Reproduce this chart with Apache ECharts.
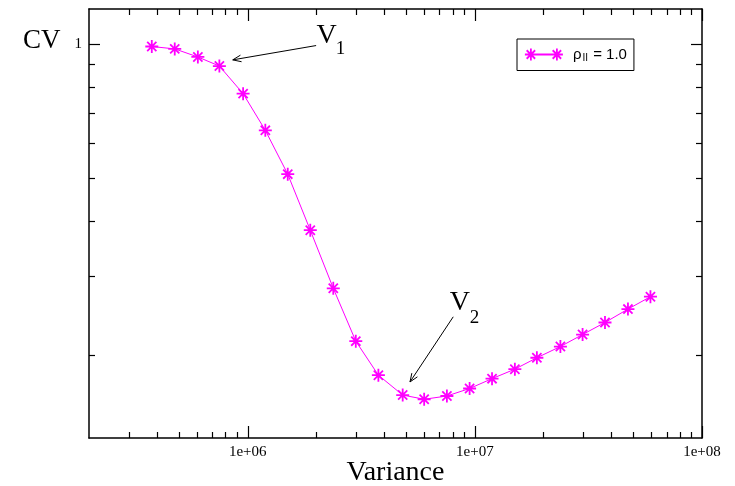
<!DOCTYPE html>
<html><head><meta charset="utf-8">
<script src="https://cdn.jsdelivr.net/npm/echarts@6/dist/echarts.min.js"></script>
<style>html,body{margin:0;padding:0;background:#fff}#c{width:735px;height:486px}</style>
</head><body><div id="c"></div>
<script>
// ---- data ----
const variance = [3.78e5, 4.77e5, 6.03e5, 7.50e5, 9.54e5, 1.195e6, 1.50e6, 1.885e6, 2.38e6, 2.99e6, 3.76e6, 4.81e6, 5.98e6, 7.53e6, 9.48e6, 1.19e7, 1.50e7, 1.875e7, 2.38e7, 2.98e7, 3.74e7, 4.72e7, 5.93e7];
const cv = [0.988, 0.976, 0.936, 0.893, 0.774, 0.640, 0.510, 0.3815, 0.2823, 0.2147, 0.180, 0.1624, 0.1589, 0.1616, 0.168, 0.1768, 0.1857, 0.197, 0.2088, 0.2222, 0.2365, 0.2535, 0.2703];
const xMajorTicks = [1e6, 1e7, 1e8];
const xTickLabels = ['1e+06', '1e+07', '1e+08'];
const xMinorTicks = [3e5, 4e5, 5e5, 6e5, 7e5, 8e5, 9e5, 2e6, 3e6, 4e6, 5e6, 6e6, 7e6, 8e6, 9e6, 2e7, 3e7, 4e7, 5e7, 6e7, 7e7, 8e7, 9e7];
const yMajorTicks = [1];
const yTickLabels = ['1'];
const yMinorTicks = [0.2, 0.3, 0.4, 0.5, 0.6, 0.7, 0.8, 0.9];
const seriesName = 'rho_par_1.0';
const xTitle = 'Variance';
const yTitle = 'CV';
// annotations (data coordinates)
const annotationMain = ['V', 'V'];
const annotationSub = ['1', '2'];
const annotationMainAt = [[2.01e6, 1.048], [7.76e6, 0.262]];
const annotationSubAt = [[2.44e6, 0.975], [9.5e6, 0.2415]];
const arrowFrom = [[2.0e6, 0.993], [8.03e6, 0.2436]];
const arrowTo = [[8.59e5, 0.922], [5.18e6, 0.1738]];

// ---- chart ----
const MAG = '#ff00ff';
const SERIF = 'Liberation Serif';
const SANS = 'Liberation Sans';
const ASTER = 'path://M6 0L6 12M0 6L12 6M1.76 1.76L10.24 10.24M1.76 10.24L10.24 1.76';
const LEG_ICON = 'path://M6 6L32 6M6 0L6 12M0 6L12 6M1.76 1.76L10.24 10.24M1.76 10.24L10.24 1.76M32 0L32 12M26 6L38 6M27.76 1.76L36.24 10.24M27.76 10.24L36.24 1.76';

const chart = echarts.init(document.getElementById('c'), null, {renderer: 'canvas'});
const axLine = {show: true, lineStyle: {color: '#000', width: 1.5}};
function xAx(pos, ticks, len, line, labels, name) {
  return {
    type: 'log', position: pos, min: 2e5, max: 1e8, logBase: 10,
    axisLine: line ? axLine : {show: false},
    axisTick: {show: true, inside: true, length: len, customValues: ticks, lineStyle: {color: '#000', width: 1.2}},
    minorTick: {show: false}, splitLine: {show: false},
    axisLabel: labels ? {show: true, customValues: xMajorTicks, margin: 7, color: '#000', fontFamily: SERIF, fontSize: 15,
      formatter: v => { const i = xMajorTicks.findIndex(t => Math.abs(t - v) / t < 1e-6); return i >= 0 ? xTickLabels[i] : ''; }} : {show: false},
    name: name || '', nameLocation: 'middle', nameGap: 21, nameMoveOverlap: false,
    nameTextStyle: {fontFamily: SERIF, fontSize: 28, color: '#000'}
  };
}
function yAx(pos, ticks, len, line, labels) {
  return {
    type: 'log', position: pos, min: 0.13, max: 1.2, logBase: 10,
    axisLine: line ? axLine : {show: false},
    axisTick: {show: true, inside: true, length: len, customValues: ticks, lineStyle: {color: '#000', width: 1.2}},
    minorTick: {show: false}, splitLine: {show: false},
    axisLabel: labels ? {show: true, customValues: yMajorTicks, margin: 7, color: '#000', fontFamily: SERIF, fontSize: 15,
      formatter: v => { const i = yMajorTicks.findIndex(t => Math.abs(t - v) / t < 1e-6); return i >= 0 ? yTickLabels[i] : ''; }} : {show: false}
  };
}

chart.setOption({
  animation: false,
  backgroundColor: '#fff',
  title: {text: yTitle, left: 18, top: 22, textStyle: {fontFamily: SERIF, fontSize: 27, fontWeight: 'normal', color: '#000'}},
  grid: {left: 89, right: 33, top: 9, bottom: 48, containLabel: false, outerBoundsMode: 'none'},
  legend: {
    left: 517, top: 39, padding: [8, 7, 7, 7], borderColor: '#000', borderWidth: 1,
    icon: LEG_ICON, itemWidth: 38, itemHeight: 12,
    itemStyle: {color: MAG, borderColor: MAG, borderWidth: 1.8},
    data: [seriesName],
    formatter: () => '{r|ρ}{s|II}{r| = 1.0}',
    textStyle: {rich: {
      r: {fontFamily: SANS, fontSize: 15, color: '#000'},
      s: {fontFamily: SANS, fontSize: 10, color: '#000', padding: [8, 1, 0, 1]}
    }, padding: [0, 0, 0, 5]}
  },
  xAxis: [
    xAx('bottom', xMajorTicks, 12, true, true, xTitle),
    xAx('bottom', xMinorTicks, 6, false, false),
    xAx('top', xMajorTicks, 12, true, false),
    xAx('top', xMinorTicks, 6, false, false)
  ],
  yAxis: [
    yAx('left', yMajorTicks, 11, true, true),
    yAx('left', yMinorTicks, 6, false, false),
    yAx('right', yMajorTicks, 11, true, false),
    yAx('right', yMinorTicks, 6, false, false)
  ],
  series: [{
    name: seriesName, type: 'line', xAxisIndex: 0, yAxisIndex: 0,
    data: variance.map((v, i) => [v, cv[i]]),
    symbol: ASTER, symbolSize: 13,
    itemStyle: {color: MAG, borderColor: MAG, borderWidth: 1.8},
    lineStyle: {color: MAG, width: 1},
    emphasis: {disabled: true}
  }]
});

// annotations via axis scales
const toPx = p => chart.convertToPixel({xAxisIndex: 0, yAxisIndex: 0}, p);
const g = [];
for (let i = 0; i < annotationMain.length; i++) {
  const a = toPx(annotationMainAt[i]);
  const s = toPx(annotationSubAt[i]);
  g.push({type: 'text', x: a[0], y: a[1], style: {text: annotationMain[i], fontFamily: SERIF, fontSize: 28, fill: '#000', align: 'left', verticalAlign: 'middle'}});
  g.push({type: 'text', x: s[0], y: s[1], style: {text: annotationSub[i], fontFamily: SERIF, fontSize: 19, fill: '#000', align: 'left', verticalAlign: 'middle'}});
  const f = toPx(arrowFrom[i]);
  const t = toPx(arrowTo[i]);
  g.push({type: 'line', shape: {x1: f[0], y1: f[1], x2: t[0], y2: t[1]}, style: {stroke: '#000', lineWidth: 1}});
  const dx = f[0] - t[0], dy = f[1] - t[1], L = Math.hypot(dx, dy);
  const ux = dx / L, uy = dy / L, hl = 9, ang = 0.38;
  const c = Math.cos(ang), sn = Math.sin(ang);
  const p1 = [t[0] + hl * (ux * c - uy * sn), t[1] + hl * (ux * sn + uy * c)];
  const p2 = [t[0] + hl * (ux * c + uy * sn), t[1] + hl * (-ux * sn + uy * c)];
  g.push({type: 'polyline', shape: {points: [p1, [t[0], t[1]], p2]}, style: {stroke: '#000', lineWidth: 1, fill: null}});
}
chart.setOption({graphic: g});
</script>
</body></html>
